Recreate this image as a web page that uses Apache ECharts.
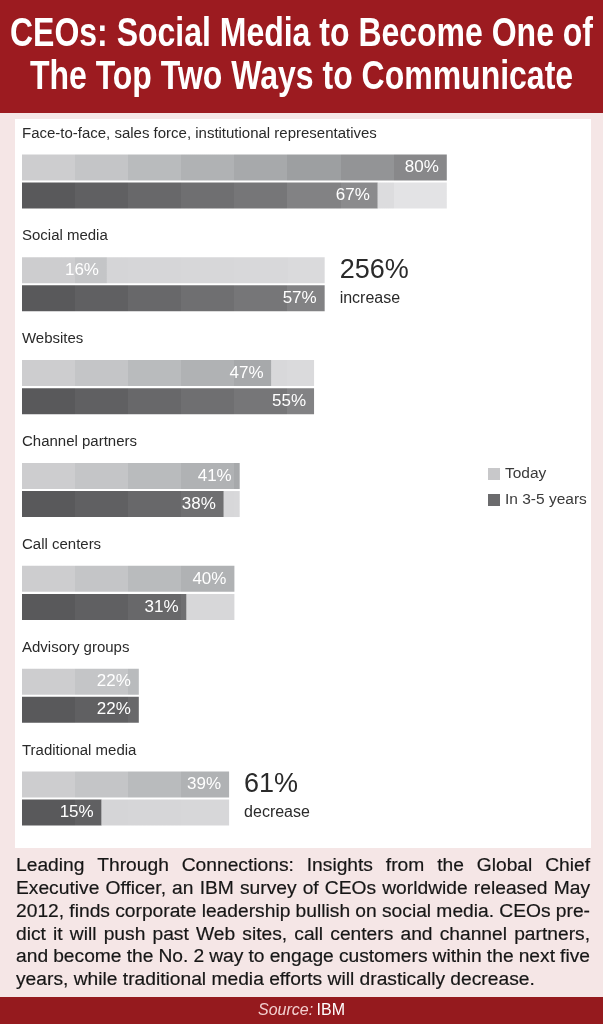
<!DOCTYPE html>
<html><head><meta charset="utf-8">
<script src="https://cdn.jsdelivr.net/npm/echarts@6.0.0/dist/echarts.min.js"></script>
<style>html,body{margin:0;padding:0;background:#f5e6e6}#c{width:603px;height:1024px}</style>
</head><body><div id="c"></div>
<script>
const categories = ['Face-to-face, sales force, institutional representatives','Social media','Websites','Channel partners','Call centers','Advisory groups','Traditional media'];
const todayValues = [80,16,47,41,40,22,39];
const futureValues = [67,57,55,38,31,22,15];
const changeValues = ['', '256%', '', '', '', '', '61%'];
const changeWords = ['', 'increase', '', '', '', '', 'decrease'];
const seriesNames = ['Today','In 3-5 years'];
const titleLines = ['CEOs: Social Media to Become One of','The Top Two Ways to Communicate'];
const paragraphLines = [
 'Leading Through Connections: Insights from the Global Chief',
 'Executive Officer, an IBM survey of CEOs worldwide released May',
 '2012, finds corporate leadership bullish on social media. CEOs pre-',
 'dict it will push past Web sites, call centers and channel partners,',
 'and become the No. 2 way to engage customers within the next five',
 'years, while traditional media efforts will drastically decrease.'
];
const sourceLabel = 'Source:';
const sourceName = 'IBM';

const SANS = '"Liberation Sans",Arial,sans-serif';
const cv = document.createElement('canvas').getContext('2d');
function tw(text, size, fam, weight, style){ cv.font = (style||'normal')+' '+(weight||'normal')+' '+size+'px '+fam; return cv.measureText(text).width; }

const todayPal = ['#cdcdcf','#c4c5c7','#b9bbbd','#b0b2b4','#a7a9ab','#9d9fa1','#939496','#88888a'];
const futurePal = ['#59595b','#606062','#68686a','#6f6f71','#767678','#828284','#8b8b8d','#939395'];
const trackPal = ['#d5d5d7','#d5d5d7','#d6d6d8','#d7d7d9','#d8d8da','#dadadc','#dcdcde','#e3e3e5'];

function stepGrad(a, b, pal){
  const len = b - a;
  if (len <= 0) return pal[0];
  const stops = [];
  for (let k = Math.floor(a/10 + 1e-9); k*10 < b - 1e-9; k++){
    const s = (Math.max(k*10, a) - a)/len, e = (Math.min((k+1)*10, b) - a)/len;
    const c = pal[Math.min(k, pal.length-1)];
    stops.push({offset:s, color:c},{offset:e, color:c});
  }
  return {type:'linear', x:0, y:0, x2:1, y2:0, colorStops:stops};
}
const maxValues = categories.map((c,i)=>Math.max(todayValues[i], futureValues[i]));

const titleSize = 41;
const titleScale = 583 / tw(titleLines[0], titleSize, SANS, 'bold');
const catSize = 16 * 355 / tw(categories[0], 16, SANS);
const paraSize = 17 * 519 / tw(paragraphLines[5], 17, SANS);

const graphics = [
  {type:'rect', shape:{x:0,y:0,width:603,height:113}, style:{fill:'#9c1b20'}, z:0},
  {type:'rect', shape:{x:15,y:119,width:576,height:729}, style:{fill:'#ffffff'}, z:0},
  {type:'rect', shape:{x:0,y:997,width:603,height:27}, style:{fill:'#951a1e'}, z:0},
];
titleLines.forEach((t,i)=>graphics.push({type:'text', z:1, x:301.5, y:35+i*43, scaleX:titleScale, scaleY:1,
  style:{text:t, x:0, y:0, align:'center', verticalAlign:'middle', fill:'#ffffff', fontFamily:SANS, fontWeight:'bold', fontSize:titleSize}}));
const paraLeft = 16, paraWidth = 574;
paragraphLines.forEach((line,i)=>{
  const y = 866 + i*22.8;
  const words = line.split(' ');
  const ws = words.map(w=>tw(w, paraSize, SANS));
  const sum = ws.reduce((a,b)=>a+b,0);
  const last = i === paragraphLines.length-1;
  const gap = last ? tw(' ', paraSize, SANS) : (paraWidth - sum)/(words.length-1);
  let x = paraLeft;
  words.forEach((w,j)=>{
    graphics.push({type:'text', z:1, style:{text:w, x:x, y:y, align:'left', verticalAlign:'middle', fill:'#161616', stroke:'#161616', lineWidth:0.2, fontFamily:SANS, fontSize:paraSize}});
    x += ws[j] + gap;
  });
});
graphics.push({type:'text', z:1, style:{text:'{a|'+sourceLabel+'} {b|'+sourceName+'}', x:301.5, y:1011, align:'center', verticalAlign:'middle',
  rich:{a:{fontStyle:'italic', fill:'#f3cfcf', fontFamily:SANS, fontSize:16}, b:{fill:'#ffffff', fontFamily:SANS, fontSize:16}}}});

const valLabel = {show:true, position:'insideRight', distance:8, formatter:'{c}%', color:'#ffffff', fontFamily:SANS, fontSize:17};

const option = {
  animation:false,
  graphic: graphics,
  grid:{left:22, right:50, top:130, height:720, containLabel:false, outerBoundsMode:'none'},
  xAxis:{type:'value', min:0, max:100, show:false},
  yAxis:{type:'category', inverse:true, data:categories, axisLine:{show:false}, axisTick:{show:false}, splitLine:{show:false},
    axisLabel:{inside:true, margin:0, align:'left', verticalAlign:'bottom', padding:[0,0,39,0], lineHeight:18, fontSize:catSize, color:'#2a2a2a', fontFamily:SANS}},
  legend:{orient:'vertical', left:483, top:461, itemWidth:12, itemHeight:12, itemGap:10, icon:'rect', data:seriesNames,
    textStyle:{fontSize:15.5, color:'#3a3a3a', fontFamily:SANS}},
  series:[
    {name:seriesNames[0], type:'bar', stack:'t', barWidth:26, barGap:'8%', itemStyle:{color:'#c8c8ca'},
      data: todayValues.map(v=>({value:v, itemStyle:{color:stepGrad(0,v,todayPal)}})), label:valLabel},
    {name:'todayTrack', type:'bar', stack:'t', barWidth:26, silent:true,
      data: todayValues.map((v,i)=>({value:maxValues[i]-v, itemStyle:{color:stepGrad(v,maxValues[i],trackPal)}})),
      label:{show:true, position:'right', distance:15, formatter:p=>changeValues[p.dataIndex], color:'#2a2a2a', fontFamily:SANS, fontSize:27}},
    {name:seriesNames[1], type:'bar', stack:'f', barWidth:26, barGap:'8%', itemStyle:{color:'#6b6b6d'},
      data: futureValues.map(v=>({value:v, itemStyle:{color:stepGrad(0,v,futurePal)}})), label:valLabel},
    {name:'futureTrack', type:'bar', stack:'f', barWidth:26, silent:true,
      data: futureValues.map((v,i)=>({value:maxValues[i]-v, itemStyle:{color:stepGrad(v,maxValues[i],trackPal)}})),
      label:{show:true, position:'right', distance:15, formatter:p=>changeWords[p.dataIndex], color:'#2a2a2a', fontFamily:SANS, fontSize:16}}
  ]
};
const chart = echarts.init(document.getElementById('c'), null, {renderer:'canvas'});
chart.setOption(option);
</script></body></html>
